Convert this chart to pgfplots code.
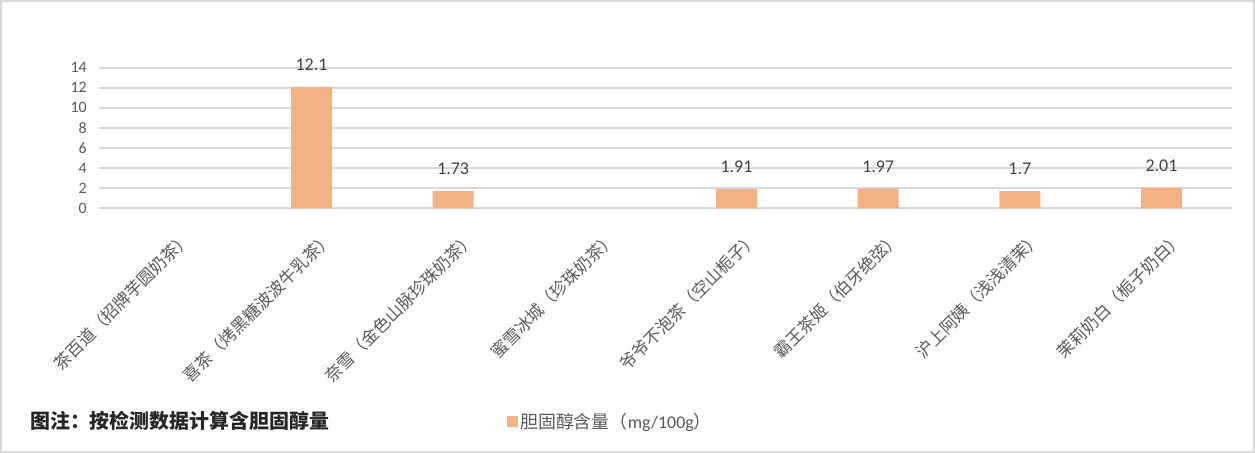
\documentclass[border=0pt]{standalone}
\usepackage{pgfplots}
\pgfplotsset{compat=1.18}
\usepackage{fontspec}
\setmainfont{Carlito}
\newfontfamily\cjk{Noto Sans CJK SC}
\definecolor{barorange}{HTML}{F4B183}
\definecolor{gridgray}{HTML}{D9D9D9}
\definecolor{txtgray}{HTML}{595959}
\definecolor{lblgray}{HTML}{404040}

\begin{document}
\begin{tikzpicture}[x=1bp,y=1bp]
\draw[gridgray, line width=2bp] (1,1) rectangle (1254,452);
\begin{axis}[
    at={(99bp,244.7bp)}, anchor=south west,
    scale only axis, width=1133.4bp, height=140.6bp,
    xmin=-0.5, xmax=7.5, ymin=0, ymax=14,
    ytick={0,2,...,14},
    xtick={0,...,7},
    xticklabels={茶百道（招牌芋圆奶茶）, 喜茶（烤黑糖波波牛乳茶）, 奈雪（金色山脉珍珠奶茶）, 蜜雪冰城（珍珠奶茶）, 爷爷不泡茶（空山栀子）, 霸王茶姬（伯牙绝弦）, 沪上阿姨（浅浅清茉）, 茉莉奶白（栀子奶白）},
    axis line style={draw=none},
    major tick length=0pt,
    ymajorgrids, grid style={gridgray, line width=1.8bp},
    /pgf/number format/assume math mode=true,
    yticklabel style={font=\fontsize{16}{16}\selectfont, text=txtgray, anchor=east, inner sep=0pt, xshift=-12bp},
    xticklabel style={font=\cjk\fontsize{17}{17}\selectfont, text=txtgray, rotate=45, anchor=north east, inner sep=0pt, xshift=-6bp, yshift=-24bp},
    ybar, bar width=41bp,
    nodes near coords={\pgfmathprintnumber[fixed, precision=2]{\pgfplotspointmeta}},
    every node near coord/.append style={font=\fontsize{18}{18}\selectfont, text=lblgray, anchor=center, yshift=22bp},
    legend style={at={(0.36,-1.516)}, anchor=west, draw=none, fill=none, inner sep=0pt,
        font=\fontsize{18}{18}\selectfont, text=txtgray},
    legend image code/.code={\fill[barorange] (0bp,-5.5bp) rectangle (11bp,5.5bp);},
]
\addplot[fill=barorange, draw=none] coordinates {
    (1,12.1) (2,1.73) (4,1.91) (5,1.97) (6,1.7) (7,2.01)
};
\addlegendentry{{\cjk 胆固醇含量（}mg/100g{\cjk ）}}
\end{axis}
\node[anchor=west, inner sep=0pt, font=\cjk\bfseries\fontsize{20}{20}\selectfont, text=black!85] at (30,32) {图注：按检测数据计算含胆固醇量};
\end{tikzpicture}
\end{document}
